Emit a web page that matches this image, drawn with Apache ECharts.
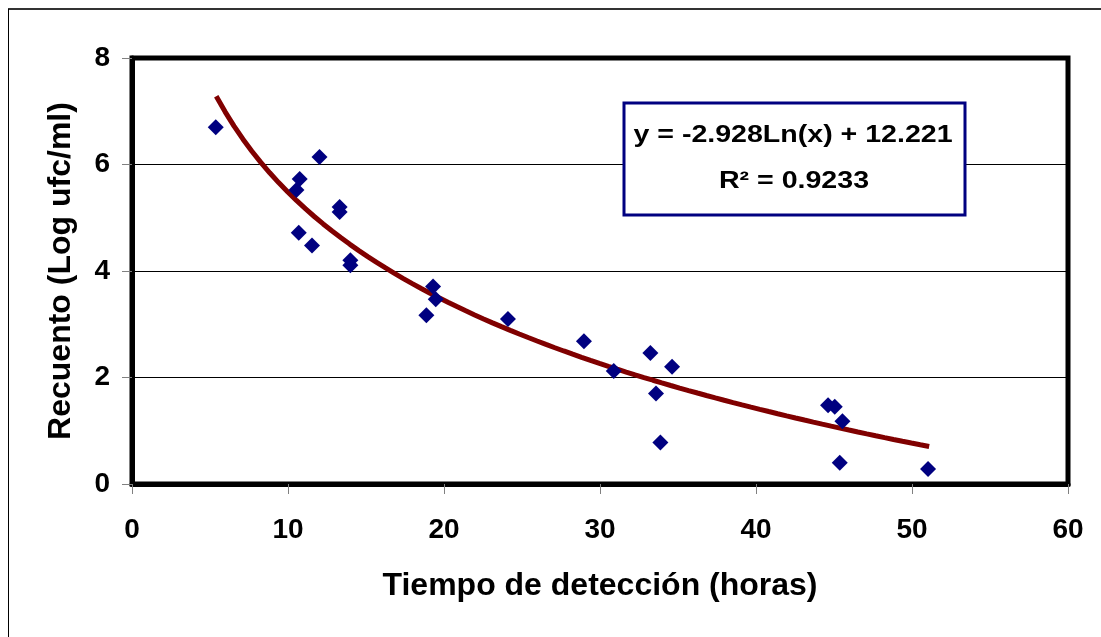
<!DOCTYPE html>
<html>
<head>
<meta charset="utf-8">
<script src="https://cdn.jsdelivr.net/npm/echarts@6/dist/echarts.min.js"></script>
<style>
html,body{margin:0;padding:0;background:#fff;}
#c{width:1101px;height:637px;}
</style>
</head>
<body>
<div id="c"></div>
<script>
// Observed points (Tiempo de detección, Recuento)
var timeHours = [5.37, 12.02, 10.75, 10.54, 13.31, 13.31, 10.69, 11.54, 14.0, 14.0, 19.3, 19.47, 18.87, 24.1, 28.97, 30.88, 33.23, 34.62, 33.59, 33.87, 44.62, 45.05, 45.54, 45.37, 51.03];
var logCount  = [6.70, 6.14, 5.73, 5.52, 5.20, 5.11, 4.72, 4.48, 4.20, 4.11, 3.71, 3.47, 3.17, 3.10, 2.68, 2.12, 2.46, 2.20, 1.70, 0.78, 1.48, 1.45, 1.18, 0.40, 0.28];
// Logarithmic trend line as printed on the chart: y = a*ln(x) + b
var trendCoef = [-2.928, 12.221];
var trendRange = [5.4, 51.1];
var xTicks = [0, 10, 20, 30, 40, 50, 60];
var yTicks = [0, 2, 4, 6, 8];
var eqText = 'y = -2.928Ln(x) + 12.221';
var r2Text = 'R\u00B2 = 0.9233';

var pts = timeHours.map(function(x, i){ return [x, logCount[i]]; });
var trend = [];
var steps = 80;
for (var i = 0; i <= steps; i++) {
  var x = trendRange[0] + (trendRange[1] - trendRange[0]) * i / steps;
  trend.push([x, trendCoef[0] * Math.log(x) + trendCoef[1]]);
}

var FONT = '"Liberation Sans", Arial, sans-serif';
var chart = echarts.init(document.getElementById('c'), null, {renderer: 'canvas'});
chart.setOption({
  backgroundColor: '#ffffff',
  animation: false,
  grid: {left: 132, right: 33, top: 58, bottom: 153, show: true, borderColor: '#000', borderWidth: 5, backgroundColor: 'transparent'},
  xAxis: {
    type: 'value', min: xTicks[0], max: xTicks[xTicks.length-1], interval: 10,
    name: 'Tiempo de detección (horas)', nameLocation: 'middle', nameGap: 86,
    nameTextStyle: {fontFamily: FONT, fontWeight: 'bold', fontSize: 32, color: '#000'},
    axisLine: {show: true, lineStyle: {color: '#000', width: 5}},
    axisTick: {show: true, length: 10, lineStyle: {color: '#808080', width: 1}},
    axisLabel: {margin: 32, fontFamily: FONT, fontWeight: 'bold', fontSize: 28, color: '#000'},
    splitLine: {show: false}
  },
  yAxis: {
    type: 'value', min: yTicks[0], max: yTicks[yTicks.length-1], interval: 2,
    name: 'Recuento (Log ufc/ml)', nameLocation: 'middle', nameGap: 55, nameRotate: 90,
    nameTextStyle: {fontFamily: FONT, fontWeight: 'bold', fontSize: 32, color: '#000'},
    axisLine: {show: true, lineStyle: {color: '#000', width: 5}},
    axisTick: {show: true, length: 10, lineStyle: {color: '#808080', width: 1}},
    axisLabel: {margin: 22, fontFamily: FONT, fontWeight: 'bold', fontSize: 28, color: '#000'},
    splitLine: {show: true, lineStyle: {color: '#000', width: 1}}
  },
  series: [
    {
      type: 'line', data: trend, showSymbol: false, symbol: 'none', smooth: false,
      lineStyle: {color: '#800000', width: 5}, z: 3
    },
    {
      type: 'scatter', data: pts, symbol: 'diamond', symbolSize: 16,
      itemStyle: {color: '#000080', opacity: 1}, z: 4
    }
  ],
  graphic: [
    {type: 'line', shape: {x1: 8, y1: 9, x2: 1101, y2: 9}, style: {stroke: '#333', lineWidth: 2}, z: 10},
    {type: 'line', shape: {x1: 8.5, y1: 9, x2: 8.5, y2: 637}, style: {stroke: '#000', lineWidth: 1}, z: 10},
    {type: 'rect', shape: {x: 624, y: 103, width: 341, height: 112}, style: {fill: '#fff', stroke: '#000080', lineWidth: 3}, z: 20},
    {type: 'text', x: 793, y: 135, scaleX: 1.19,
      style: {text: eqText, font: 'bold 24px ' + FONT, fill: '#000', textAlign: 'center', textVerticalAlign: 'middle'}, z: 21},
    {type: 'text', x: 794, y: 181, scaleX: 1.19,
      style: {text: r2Text, font: 'bold 24px ' + FONT, fill: '#000', textAlign: 'center', textVerticalAlign: 'middle'}, z: 21}
  ]
});
</script>
</body>
</html>
